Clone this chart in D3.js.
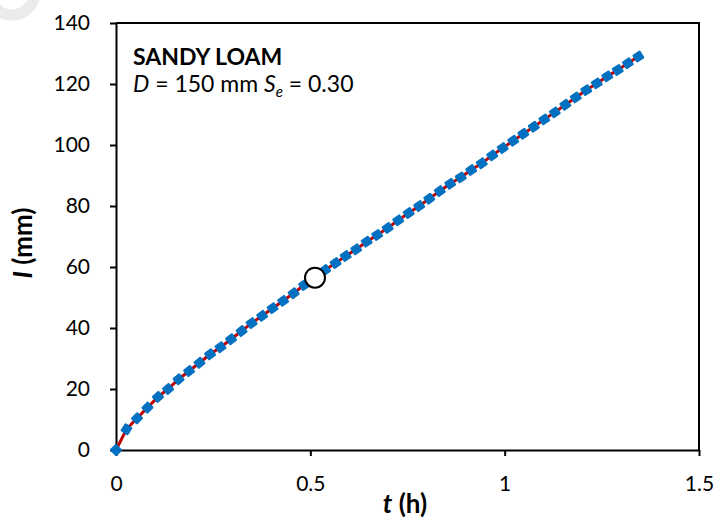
<!DOCTYPE html>
<html>
<head>
<meta charset="utf-8">
<script src="https://cdn.jsdelivr.net/npm/d3@7"></script>
<style>
  body { margin: 0; background: #fff; }
  text { font-family: Lato, "Liberation Sans", sans-serif; }
</style>
</head>
<body>
<script>
// time (h) and cumulative infiltration (mm)
var tData = [0, 0.027, 0.054, 0.081, 0.108, 0.134, 0.161, 0.188, 0.215, 0.242,
    0.269, 0.296, 0.323, 0.349, 0.376, 0.403, 0.430, 0.457, 0.484, 0.511,
    0.538, 0.565, 0.591, 0.618, 0.645, 0.672, 0.699, 0.726, 0.753, 0.780,
    0.806, 0.833, 0.860, 0.887, 0.914, 0.941, 0.968, 0.995, 1.022, 1.048,
    1.075, 1.102, 1.129, 1.156, 1.183, 1.210, 1.237, 1.264, 1.291, 1.317, 1.344];
var iData = [0, 6.8, 10.4, 13.9, 17.4, 20.0, 23.2, 25.9, 28.6, 31.4,
    33.7, 36.3, 39.0, 41.6, 44.0, 46.5, 48.9, 51.4, 54.1, 56.3,
    59.0, 61.3, 63.6, 65.8, 68.3, 70.5, 72.8, 75.3, 77.7, 80.0,
    82.4, 84.9, 87.3, 89.4, 91.8, 94.0, 96.6, 99.0, 101.4, 103.7,
    106.0, 108.4, 110.7, 113.2, 115.6, 118.0, 120.2, 122.5, 124.6, 126.8, 129.0];
// highlighted point (open circle)
var markT = [0.512], markI = [56.5];
var xTicks = [0, 0.5, 1, 1.5],
    yTicks = [0, 20, 40, 60, 80, 100, 120, 140];

var svgwidth = 718, svgheight = 520,
    margin = { top: 23, right: 19, bottom: 70, left: 116 };

var svg = d3.select('body').append('svg')
    .attr('width', svgwidth)
    .attr('height', svgheight);

// faint ring in the corner
svg.append('circle')
    .attr('cx', 12).attr('cy', -8).attr('r', 23)
    .attr('fill', 'none')
    .attr('stroke', '#ebebeb')
    .attr('stroke-width', 11);

var xscale = d3.scaleLinear().domain([0, 1.5]).range([margin.left, svgwidth - margin.right]);
var yscale = d3.scaleLinear().domain([0, 140]).range([svgheight - margin.bottom, margin.top]);

var xaxis = d3.axisBottom(xscale).tickValues(xTicks).tickSize(6).tickPadding(20)
    .tickSizeOuter(0).tickFormat(d3.format(''));
var yaxis = d3.axisLeft(yscale).tickValues(yTicks).tickSize(6).tickPadding(20).tickSizeOuter(0);

var gx = svg.append('g')
    .attr('transform', 'translate(0,' + yscale(0) + ')')
    .call(xaxis);
var gy = svg.append('g')
    .attr('transform', 'translate(' + xscale(0) + ',0)')
    .call(yaxis);
[gx, gy].forEach(function (g) {
    g.selectAll('path, line').attr('stroke', '#000').attr('stroke-width', 2);
    g.selectAll('text').attr('font-size', 21).attr('fill', '#000')
        .attr('font-family', 'Lato, sans-serif');
});

// top and right border of the plot area
svg.append('path')
    .attr('d', 'M' + xscale(0) + ',' + yscale(140) + 'H' + xscale(1.5) + 'V' + yscale(0))
    .attr('fill', 'none')
    .attr('stroke', '#000')
    .attr('stroke-width', 2);

var pts = tData.map(function (t, i) { return [t, iData[i]]; });

// red line underneath
var line = d3.line()
    .x(function (d) { return xscale(d[0]); })
    .y(function (d) { return yscale(d[1]); });
svg.append('path')
    .datum(pts)
    .attr('d', line)
    .attr('fill', 'none')
    .attr('stroke', '#c00000')
    .attr('stroke-width', 3);

// blue square markers turned along the curve
svg.selectAll('rect.obs')
    .data(pts)
    .enter().append('rect')
    .attr('class', 'obs')
    .attr('x', -4.7).attr('y', -4.5)
    .attr('width', 9.4).attr('height', 9)
    .attr('rx', 1.2)
    .attr('fill', '#0070c0')
    .attr('transform', function (d, i) {
        var a = i === 0 ? 45 : (function () {
            var p = pts[i - 1], n = pts[Math.min(i + 1, pts.length - 1)];
            return Math.atan2(yscale(n[1]) - yscale(p[1]), xscale(n[0]) - xscale(p[0])) * 180 / Math.PI;
        })();
        return 'translate(' + xscale(d[0]) + ',' + yscale(d[1]) + ') rotate(' + a + ')';
    });

// open circle
svg.selectAll('circle.mark')
    .data(markT)
    .enter().append('circle')
    .attr('class', 'mark')
    .attr('cx', function (d) { return xscale(d); })
    .attr('cy', function (d, i) { return yscale(markI[i]); })
    .attr('r', 10)
    .attr('fill', '#fff')
    .attr('stroke', '#000')
    .attr('stroke-width', 2);

// annotation
svg.append('text')
    .attr('x', 133).attr('y', 65)
    .attr('font-size', 23)
    .attr('font-weight', 'bold')
    .text('SANDY LOAM');
var t2 = svg.append('text')
    .attr('x', 133).attr('y', 92)
    .attr('font-size', 23);
t2.append('tspan').attr('font-style', 'italic').text('D');
t2.append('tspan').text(' = 150 mm ');
t2.append('tspan').attr('font-style', 'italic').text('S');
t2.append('tspan').attr('font-style', 'italic').attr('font-size', 15).attr('dy', 5).text('e');
t2.append('tspan').attr('dy', -5).text(' = 0.30');

// axis titles
var xt = svg.append('text')
    .attr('x', 405).attr('y', 513)
    .attr('text-anchor', 'middle')
    .attr('font-size', 26)
    .attr('font-weight', 'bold');
xt.append('tspan').attr('font-style', 'italic').text('t');
xt.append('tspan').text(' (h)');

var yt = svg.append('text')
    .attr('transform', 'translate(32,243) rotate(-90)')
    .attr('text-anchor', 'middle')
    .attr('font-size', 26)
    .attr('font-weight', 'bold');
yt.append('tspan').attr('font-style', 'italic').text('I');
yt.append('tspan').text(' (mm)');
</script>
</body>
</html>
